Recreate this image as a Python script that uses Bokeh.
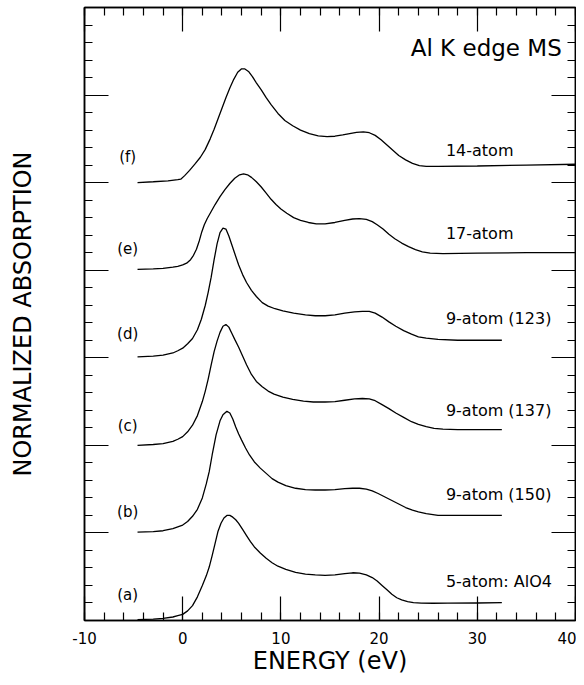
import numpy as np
from bokeh.plotting import figure
from bokeh.models import LinearAxis, FixedTicker, Range1d, CustomJSTickFormatter
from bokeh.core.properties import value
from bokeh.embed import file_html
from bokeh.resources import INLINE

# ---- data (energy in eV, stacked normalized absorption) ----
x_a = [-4.6, -3, -2, -1, -0.5, 0, 0.5, 1.0, 1.5, 2.0, 2.4, 2.7, 3.0, 3.3, 3.6, 3.9, 4.2, 4.5, 4.8, 5.1, 5.4, 5.7,
       6.1, 6.5, 6.9, 7.3, 7.9, 8.5, 9.1, 9.7, 10.5, 11.5, 12.5, 13.5, 14.5, 15.5, 16.5, 17.3, 18.0, 18.7, 19.3,
       19.8, 20.3, 20.8, 21.3, 21.8, 22.3, 22.9, 23.5, 24.3, 25.5, 27, 30, 32.5]
y_a = [0.01, 0.015, 0.025, 0.04, 0.055, 0.07, 0.11, 0.17, 0.27, 0.40, 0.51, 0.61, 0.74, 0.88, 1.02, 1.11, 1.17, 1.20, 1.20, 1.18, 1.15, 1.11,
       1.04, 0.97, 0.90, 0.84, 0.77, 0.71, 0.66, 0.62, 0.585, 0.55, 0.53, 0.52, 0.515, 0.52, 0.535, 0.545, 0.54, 0.52, 0.49,
       0.45, 0.40, 0.35, 0.30, 0.26, 0.235, 0.215, 0.205, 0.198, 0.197, 0.198, 0.20, 0.203]

x_b = [-4.6, -3, -2, -1, 0, 0.5, 1.0, 1.5, 2.0, 2.4, 2.7, 3.0, 3.4, 3.8, 4.1, 4.5, 4.8, 5.1, 5.4, 5.7, 6.0, 6.4,
       6.8, 7.3, 7.9, 8.5, 9.1, 9.7, 10.5, 11.5, 12.5, 13.5, 14.5, 15.5, 16.5, 17.3, 18.0, 18.7, 19.3, 19.9, 20.6,
       21.3, 22.0, 22.7, 23.4, 24, 24.8, 26, 29, 32.5]
y_b = [1.01, 1.015, 1.025, 1.05, 1.09, 1.13, 1.19, 1.27, 1.40, 1.56, 1.70, 1.89, 2.12, 2.28, 2.35, 2.39, 2.37, 2.30, 2.21, 2.13, 2.06, 1.97,
       1.89, 1.81, 1.74, 1.68, 1.62, 1.58, 1.54, 1.51, 1.495, 1.49, 1.49, 1.495, 1.505, 1.51, 1.51, 1.50, 1.48, 1.45, 1.41,
       1.37, 1.33, 1.29, 1.26, 1.24, 1.22, 1.20, 1.20, 1.20]

x_c = [-4.6, -3, -2, -1, -0.5, 0, 0.5, 1.0, 1.5, 2.0, 2.3, 2.6, 2.9, 3.2, 3.5, 3.8, 4.1, 4.4, 4.7, 5.0, 5.3, 5.7,
       6.1, 6.5, 7.0, 7.5, 8.1, 8.7, 9.3, 10.2, 11.2, 12.3, 13.3, 14.5, 15.5, 16.5, 17.5, 18.3, 19.0, 19.6, 20.3,
       21.0, 21.7, 22.5, 23.3, 24.0, 24.8, 25.6, 26.5, 28, 30, 32.5]
y_c = [2.0, 2.01, 2.02, 2.045, 2.07, 2.10, 2.155, 2.23, 2.34, 2.50, 2.62, 2.76, 2.92, 3.07, 3.19, 3.29, 3.36, 3.38, 3.35, 3.28, 3.21, 3.12,
       3.02, 2.92, 2.81, 2.73, 2.67, 2.62, 2.585, 2.55, 2.525, 2.505, 2.495, 2.495, 2.50, 2.515, 2.53, 2.535, 2.53, 2.51, 2.465,
       2.42, 2.37, 2.32, 2.27, 2.24, 2.215, 2.195, 2.185, 2.18, 2.18, 2.18]

x_d = [-4.6, -3, -2, -1, -0.5, 0, 0.5, 1.0, 1.5, 1.9, 2.3, 2.6, 2.9, 3.2, 3.5, 3.8, 4.1, 4.4, 4.7, 5.0, 5.3, 5.7,
       6.1, 6.5, 7.0, 7.5, 8.1, 8.7, 9.4, 10.2, 11.3, 12.5, 13.5, 14.5, 15.5, 16.5, 17.5, 18.3, 19.0, 19.6, 20.3,
       21.0, 21.7, 22.5, 23.3, 24.0, 24.8, 26, 28, 30, 32.5]
y_d = [3.01, 3.02, 3.03, 3.055, 3.08, 3.11, 3.16, 3.22, 3.32, 3.44, 3.60, 3.75, 3.92, 4.12, 4.30, 4.43, 4.48, 4.47, 4.39, 4.29, 4.19, 4.06,
       3.95, 3.86, 3.77, 3.70, 3.63, 3.59, 3.56, 3.535, 3.51, 3.49, 3.48, 3.48, 3.49, 3.51, 3.525, 3.53, 3.53, 3.51, 3.465,
       3.41, 3.36, 3.31, 3.27, 3.24, 3.225, 3.21, 3.20, 3.20, 3.20]

x_e = [-4.6, -3, -2, -1, -0.5, 0, 0.4, 0.8, 1.1, 1.4, 1.7, 1.95, 2.2, 2.5, 2.9, 3.3, 3.8, 4.3, 4.8, 5.3, 5.8, 6.2,
       6.6, 7.0, 7.5, 8.0, 8.5, 9.0, 9.5, 10.0, 10.6, 11.3, 12.0, 12.8, 13.6, 14.5, 15.5, 16.5, 17.3, 18.0, 18.7,
       19.3, 19.8, 20.4, 21.0, 21.6, 22.3, 23.0, 23.7, 24.4, 25.2, 26.5, 30, 35, 40]
y_e = [4.01, 4.015, 4.02, 4.035, 4.045, 4.06, 4.08, 4.12, 4.17, 4.24, 4.34, 4.44, 4.52, 4.59, 4.67, 4.75, 4.84, 4.92, 4.99, 5.05, 5.09, 5.10,
       5.09, 5.06, 5.01, 4.95, 4.88, 4.81, 4.75, 4.70, 4.65, 4.60, 4.57, 4.545, 4.53, 4.53, 4.545, 4.57, 4.585, 4.59, 4.58,
       4.555, 4.52, 4.47, 4.41, 4.36, 4.31, 4.27, 4.235, 4.21, 4.195, 4.19, 4.195, 4.20, 4.20]

x_f = [-4.6, -3, -1.5, -0.5, -0.2, 0.2, 0.7, 1.3, 1.8, 2.3, 2.8, 3.2, 3.6, 4.0, 4.4, 4.8, 5.2, 5.6, 6.0, 6.3, 6.7, 7.1,
       7.5, 8.0, 8.5, 9.0, 9.7, 10.4, 11.2, 12.0, 12.9, 13.8, 14.7, 15.5, 16.3, 17.0, 17.7, 18.4, 19.0, 19.6, 20.2,
       20.8, 21.4, 22.0, 22.7, 23.4, 24.1, 24.8, 26, 30, 35, 40]
y_f = [5.0, 5.01, 5.02, 5.035, 5.04, 5.08, 5.14, 5.22, 5.29, 5.38, 5.50, 5.61, 5.73, 5.85, 5.97, 6.08, 6.18, 6.26, 6.30, 6.30, 6.27, 6.21,
       6.14, 6.06, 5.97, 5.89, 5.79, 5.71, 5.65, 5.60, 5.56, 5.535, 5.525, 5.53, 5.545, 5.56, 5.575, 5.58, 5.57, 5.54, 5.49,
       5.43, 5.37, 5.31, 5.26, 5.22, 5.195, 5.185, 5.185, 5.19, 5.20, 5.21]

panel_letters = ["(a)", "(b)", "(c)", "(d)", "(e)", "(f)"]
panel_letter_x = [-5.6] * 6
panel_letter_y = [0.29, 1.24, 2.22, 3.27, 4.24, 5.29]

cluster_labels = ["5-atom: AlO4", "9-atom (150)", "9-atom (137)", "9-atom (123)", "17-atom", "14-atom"]
cluster_label_x = [26.8] * 6
cluster_label_y = [0.45, 1.44, 2.40, 3.45, 4.42, 5.37]

title_text = ["Al K edge MS"]
title_x = [38.6]
title_y = [6.54]

x_major = [-10, 0, 10, 20, 30, 40]
x_major_labels = {-10: "-10", 0: "0", 10: "10", 20: "20", 30: "30", 40: "40"}
x_minor = list(range(-10, 41, 2))
y_major = [0, 1, 2, 3, 4, 5, 6, 7]
y_minor = [round(v, 1) for v in np.arange(0, 7.01, 0.2)]

FONT = "DejaVu Sans"

p = figure(width=576, height=677, x_range=Range1d(-10, 40), y_range=Range1d(0, 7),
           output_backend="svg", toolbar_location=None,
           min_border_left=84, min_border_right=1, min_border_top=7, min_border_bottom=56)
p.grid.visible = False
p.outline_line_color = "black"
p.outline_line_width = 1.5
p.background_fill_color = "white"
p.border_fill_color = "white"

blank = CustomJSTickFormatter(code="return ''")


def style_axis(ax, labels):
    ax.axis_line_color = "black"
    ax.axis_line_width = 1.5
    ax.major_tick_line_color = "black"
    ax.minor_tick_line_color = "black"
    ax.major_tick_line_width = 1.2
    ax.minor_tick_line_width = 1.2
    ax.major_tick_in = 24
    ax.major_tick_out = 0
    ax.minor_tick_in = 8
    ax.minor_tick_out = 0
    if not labels:
        ax.formatter = blank
        ax.major_label_text_font_size = "0px"
        ax.major_label_standoff = 0


xb = p.xaxis[0]
xb.ticker = FixedTicker(ticks=x_major, minor_ticks=x_minor)
style_axis(xb, True)
xb.major_label_overrides = x_major_labels
xb.major_label_text_font = FONT
xb.major_label_text_font_size = "15px"
xb.major_label_text_color = "black"
xb.major_label_standoff = 11
xb.axis_label = "ENERGY (eV)"
xb.axis_label_text_font = FONT
xb.axis_label_text_font_size = "24px"
xb.axis_label_text_font_style = "normal"
xb.axis_label_text_color = "black"
xb.axis_label_standoff = 0

yl = p.yaxis[0]
yl.ticker = FixedTicker(ticks=y_major, minor_ticks=y_minor)
style_axis(yl, False)
yl.axis_label = "NORMALIZED ABSORPTION"
yl.axis_label_text_font = FONT
yl.axis_label_text_font_size = "24px"
yl.axis_label_text_font_style = "normal"
yl.axis_label_text_color = "black"
yl.axis_label_standoff = 48

xtop = LinearAxis(ticker=FixedTicker(ticks=x_major, minor_ticks=x_minor))
style_axis(xtop, False)
p.add_layout(xtop, "above")

yr = LinearAxis(ticker=FixedTicker(ticks=y_major, minor_ticks=y_minor))
style_axis(yr, False)
p.add_layout(yr, "right")

for xs, ys in [(x_a, y_a), (x_b, y_b), (x_c, y_c), (x_d, y_d), (x_e, y_e), (x_f, y_f)]:
    p.line(xs, ys, line_color="black", line_width=1.3)

p.text(x=panel_letter_x, y=panel_letter_y, text=panel_letters, text_font=value(FONT),
       text_font_size="15px", text_align="center", text_baseline="middle", text_color="black")
p.text(x=cluster_label_x, y=cluster_label_y, text=cluster_labels, text_font=value(FONT),
       text_font_size="16px", text_align="left", text_baseline="middle", text_color="black")
p.text(x=title_x, y=title_y, text=title_text, text_font=value(FONT),
       text_font_size="23px", text_align="right", text_baseline="middle", text_color="black")

open("out.html", "w").write(file_html(p, INLINE))
